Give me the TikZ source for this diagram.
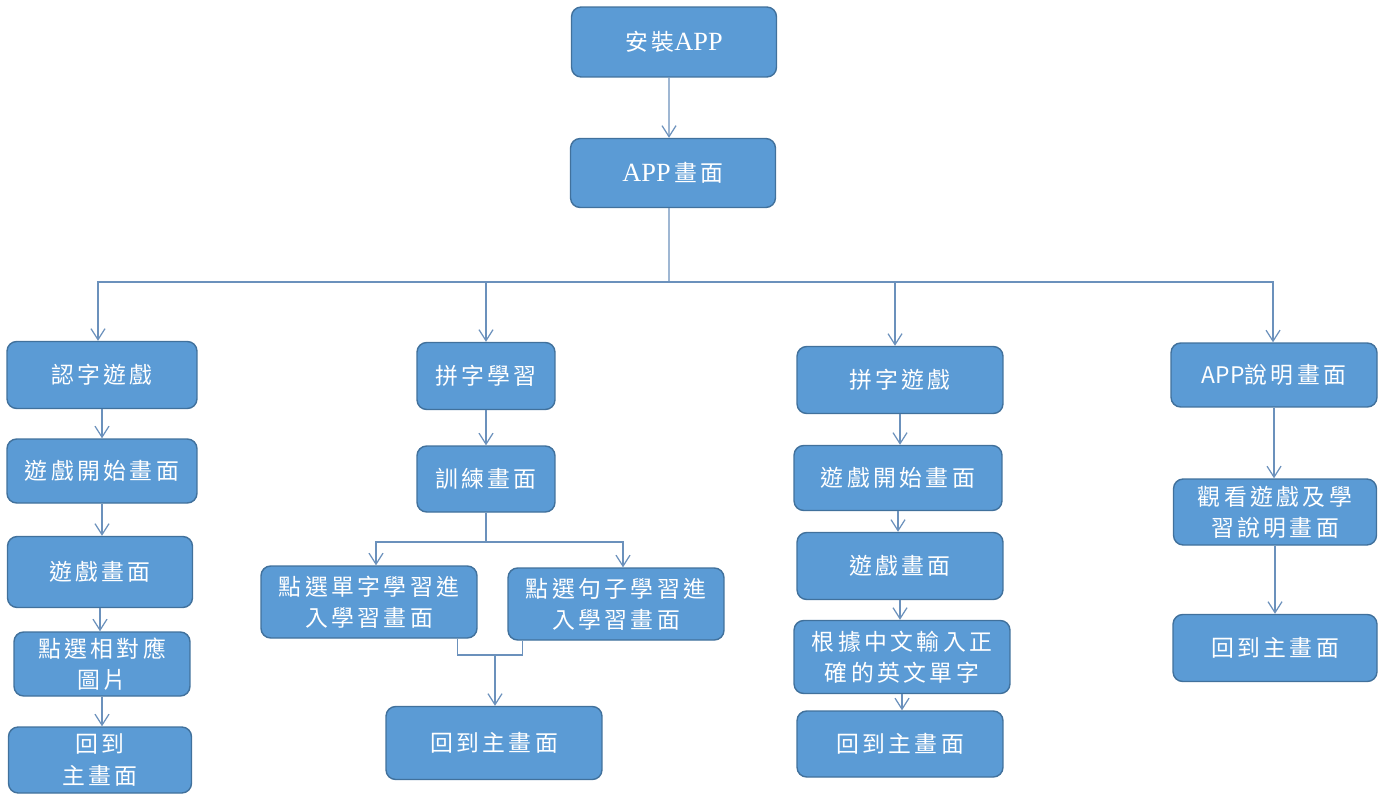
\documentclass[tikz,border=0pt]{standalone}
\usepackage{fontspec}
\setmainfont{Noto Sans CJK TC}[LetterSpace=15]
\newfontfamily\latinserif{Liberation Serif}[Scale=1.15]
\definecolor{myblue}{RGB}{91,155,213}
\definecolor{myborder}{RGB}{65,113,156}
\definecolor{mylinecol}{RGB}{107,145,188}
\usetikzlibrary{arrows.meta}
\newcommand{\appserif}{{\latinserif APP}\,}
\newcommand{\appsans}{{\addfontfeature{LetterSpace=0}APP}}
\newcommand{\widthblock}{4.1cm}
\newcommand{\widthnarrow}{3.8cm}
\newcommand{\widthshort}{2.76cm}
\newcommand{\widthwide}{4.32cm}
\newcommand{\heightblock}{1.34cm}
\newcommand{\heightwide}{1.44cm}
\tikzset{
    common/.style={draw=myborder, fill=myblue, line width=0.8pt, rounded corners=5.5pt,
        text=white, align=center, inner sep=0pt, font=\fontsize{13}{17.8}\selectfont},
    block/.style={common, minimum width=\widthblock, minimum height=\heightblock},
    narrow/.style={common, minimum width=\widthnarrow, minimum height=\heightblock},
    short/.style={common, minimum width=\widthshort, minimum height=\heightblock},
    wide/.style={common, minimum width=\widthwide, minimum height=\heightwide},
    flow/.style={draw=mylinecol, line width=0.7pt},
    arr/.style={flow, -{Straight Barb[length=2.2mm, width=2.8mm]}}
}

\begin{document}
\begin{tikzpicture}[x=0.02cm, y=-0.02cm]
        \useasboundingbox (0,0) rectangle (1391,794);

        \path
            (674,42) node[block, minimum height=1.4cm] (install) {安裝{\latinserif APP}}
            to ++(-1,131) node[block, minimum height=1.38cm] (main) {\appserif 畫面};

        % left column
        \path
            (102,375) node[narrow] (c1a) {認字遊戲}
            to ++(0,96) node[narrow, minimum height=1.28cm] (c1b) {遊戲開始畫面}
            to ++(-2,101) node[narrow, minimum width=3.7cm, minimum height=1.42cm] (c1c) {遊戲畫面}
            to ++(2,92) node[narrow, minimum width=3.52cm, minimum height=1.28cm] (c1d) {點選相對應\\圖片}
            to ++(-2,96) node[narrow, minimum width=3.66cm, minimum height=1.32cm] (c1e) {回到\\主畫面};

        % spelling study
        \path
            (486,376) node[short] (c2a) {拼字學習}
            to ++(0,103) node[short, minimum height=1.32cm] (c2b) {訓練畫面}
            to ++(-117,123) node[wide] (c2c) {點選單字學習進\\入學習畫面}
            to ++(247,2) node[wide] (c2d) {點選句子學習進\\入學習畫面}
            to ++(-122,139) node[wide, minimum height=1.46cm] (c2e) {回到主畫面};

        % spelling game
        \path
            (900,380) node[block, minimum width=4.12cm] (c3a) {拼字遊戲}
            to ++(-2,98) node[block, minimum width=4.16cm, minimum height=1.3cm] (c3b) {遊戲開始畫面}
            to ++(2,88) node[block, minimum width=4.12cm] (c3c) {遊戲畫面}
            to ++(2,91) node[wide, minimum height=1.46cm] (c3d) {根據中文輸入正\\確的英文單字}
            to ++(-2,87) node[block, minimum width=4.12cm, minimum height=1.32cm] (c3e) {回到主畫面};

        % help
        \path
            (1274,375) node[block, minimum width=4.12cm, minimum height=1.28cm] (c4a) {\appsans 說明畫面}
            to ++(1,137) node[block, minimum width=4.06cm, minimum height=1.32cm] (c4b) {觀看遊戲及學\\習說明畫面}
            to ++(0,136) node[block, minimum width=4.08cm] (c4c) {回到主畫面};

        \coordinate (bus) at (669,282);
        \coordinate (split) at (486,542);
        \coordinate (merge) at (495,655);

        \draw[arr] ([xshift=-0.1cm]install.south) -- ([xshift=-0.08cm]main.north);
        \draw[flow] ([xshift=-0.08cm]main.south) -- (bus);
        \draw[arr] (bus) -| ([xshift=-0.08cm]c1a.north);
        \draw[arr] (bus) -| (c2a.north);
        \draw[arr] (bus) -| ([xshift=-0.1cm]c3a.north);
        \draw[arr] (bus) -| ([xshift=-0.02cm]c4a.north);

        \draw[arr] (c1a) -- (c1a |- c1b.north);
        \draw[arr] (c1b) -- (c1b |- c1c.north);
        \draw[arr] (c1c) -- (c1c |- c1d.north);
        \draw[arr] (c1d) -- (c1d |- c1e.north);

        \draw[arr] (c2a) -- (c2b);
        \draw[flow] (c2b) -- (split);
        \draw[arr] (split) -| ([xshift=0.14cm]c2c.north);
        \draw[arr] (split) -| ([xshift=0.14cm]c2d.north);
        \draw[flow] ([xshift=-0.4cm]c2c.south east) |- (merge) -| ([xshift=0.3cm]c2d.south west);
        \draw[arr] (merge) -- (merge |- c2e.north);

        \draw[arr] (c3a) -- (c3a |- c3b.north);
        \draw[arr] (c3b) -- (c3b |- c3c.north);
        \draw[arr] (c3c) -- (c3c |- c3d.north);
        \draw[arr] (c3d) -- (c3d |- c3e.north);

        \draw[arr] (c4a) -- (c4a |- c4b.north);
        \draw[arr] (c4b) -- (c4b |- c4c.north);

    \end{tikzpicture}
\end{document}
